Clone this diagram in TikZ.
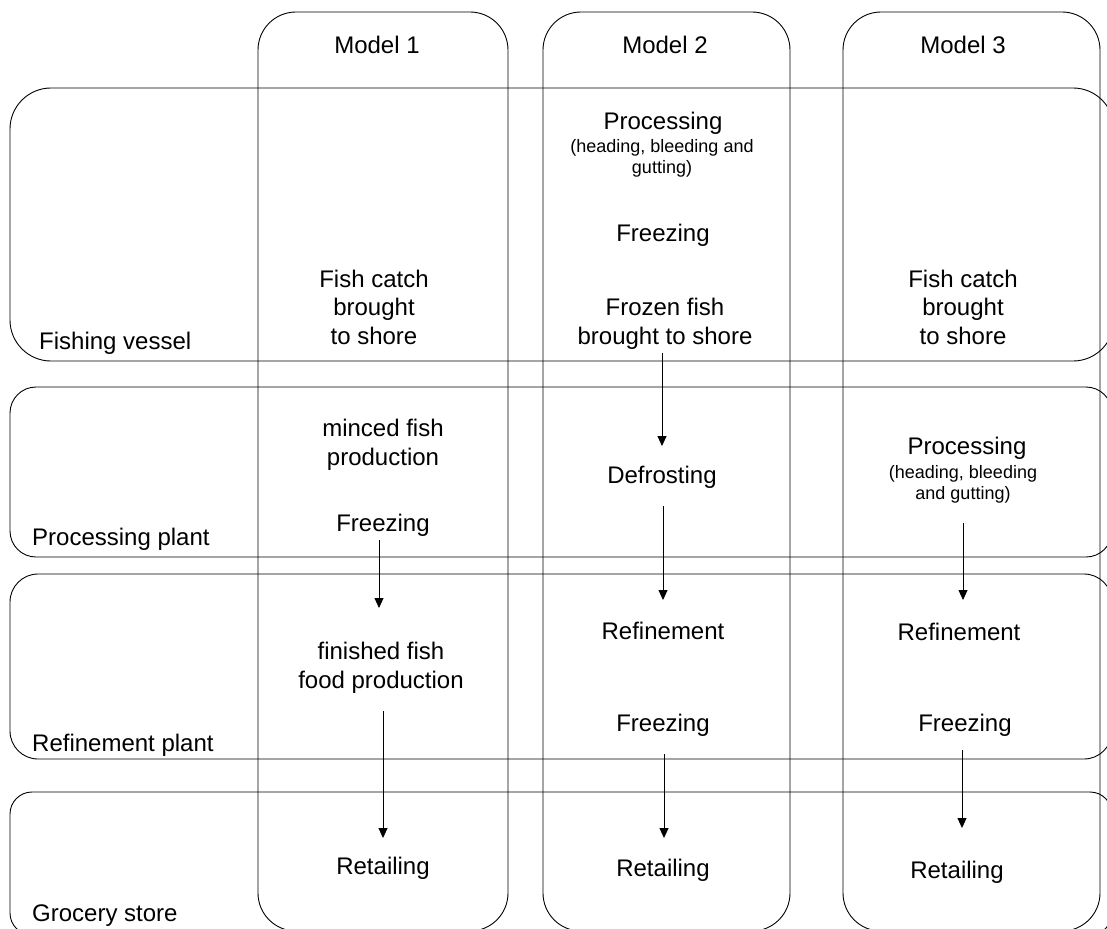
\documentclass[tikz,border=0pt]{standalone}
\usepackage{fontspec}
\setmainfont{Liberation Sans}
\usetikzlibrary{arrows.meta}
\begin{document}
\begin{tikzpicture}[x=1pt,y=-1pt,
  box/.style={draw=black,line width=0.9pt},
  txt/.style={inner sep=0pt,align=center,font=\fontsize{24}{28.5}\selectfont},
  note/.style={inner sep=0pt,align=center,font=\fontsize{18}{21}\selectfont},
  lbl/.style={inner sep=0pt,anchor=west,font=\fontsize{24}{28.5}\selectfont},
  arr/.style={line width=0.9pt,-{Triangle[length=10pt,width=9pt]}}]
\useasboundingbox (0,0) rectangle (1107,928);
\clip (0,0) rectangle (1107,928);
% rows (stages)
\draw[box,rounded corners=41pt] (10,88) rectangle (1114,361);
\draw[box,rounded corners=26pt] (10,387) rectangle (1112,557);
\draw[box,rounded corners=28pt] (10,574) rectangle (1112,759);
\draw[box,rounded corners=22pt] (10,792) rectangle (1112,935);
% columns (models)
\draw[box,rounded corners=38pt] (258,12) rectangle (508,931);
\draw[box,rounded corners=38pt] (543,12) rectangle (790,931);
\draw[box,rounded corners=38pt] (843,12) rectangle (1100,931);
% row labels
\node[lbl] (l1) at (39,343) {Fishing vessel};
\node[lbl] (l2) at (32,539) {Processing plant};
\node[lbl] (l3) at (32,745) {Refinement plant};
\node[lbl] (l4) at (32,916) {Grocery store};
% headers
\node[txt] (m1) at (377,45) {Model 1};
\node[txt] (m2) at (665,45) {Model 2};
\node[txt] (m3) at (963,45) {Model 3};
% model 1
\node[txt] (c1a) at (374,307) {Fish catch\\brought\\to shore};
\node[txt] (c1b) at (383,445) {minced fish\\production};
\node[txt] (c1c) at (383,525) {Freezing};
\node[txt] (c1d) at (381,668) {finished fish\\food production};
\node[txt] (c1e) at (383,868) {Retailing};
% model 2
\node[txt] (c2a) at (663,123) {Processing};
\node[note] (c2an) at (662,158.5) {(heading, bleeding and\\gutting)};
\node[txt] (c2b) at (663,235) {Freezing};
\node[txt] (c2c) at (665,324) {Frozen fish\\brought to shore};
\node[txt] (c2d) at (662,477) {Defrosting};
\node[txt] (c2e) at (663,631) {Refinement};
\node[txt] (c2f) at (663,725) {Freezing};
\node[txt] (c2g) at (663,870) {Retailing};
% model 3
\node[txt] (c3a) at (963,307) {Fish catch\\brought\\to shore};
\node[txt] (c3b) at (967,448) {Processing};
\node[note] (c3bn) at (963,484.5) {(heading, bleeding\\and gutting)};
\node[txt] (c3c) at (959,632) {Refinement};
\node[txt] (c3d) at (965,725) {Freezing};
\node[txt] (c3e) at (957,872) {Retailing};
% arrow ends
\coordinate (a1s) at (379,540); \coordinate (a1e) at (379,608);
\coordinate (a2s) at (383,711); \coordinate (a2e) at (383,838);
\coordinate (b1s) at (662,353); \coordinate (b1e) at (662,446);
\coordinate (b2s) at (663,506); \coordinate (b2e) at (663,600);
\coordinate (b3s) at (664,754); \coordinate (b3e) at (664,838);
\coordinate (d1s) at (963,523); \coordinate (d1e) at (963,600);
\coordinate (d2s) at (962,750); \coordinate (d2e) at (962,828);
\draw[arr] (a1s) -- (a1e);
\draw[arr] (a2s) -- (a2e);
\draw[arr] (b1s) -- (b1e);
\draw[arr] (b2s) -- (b2e);
\draw[arr] (b3s) -- (b3e);
\draw[arr] (d1s) -- (d1e);
\draw[arr] (d2s) -- (d2e);
\end{tikzpicture}
\end{document}
